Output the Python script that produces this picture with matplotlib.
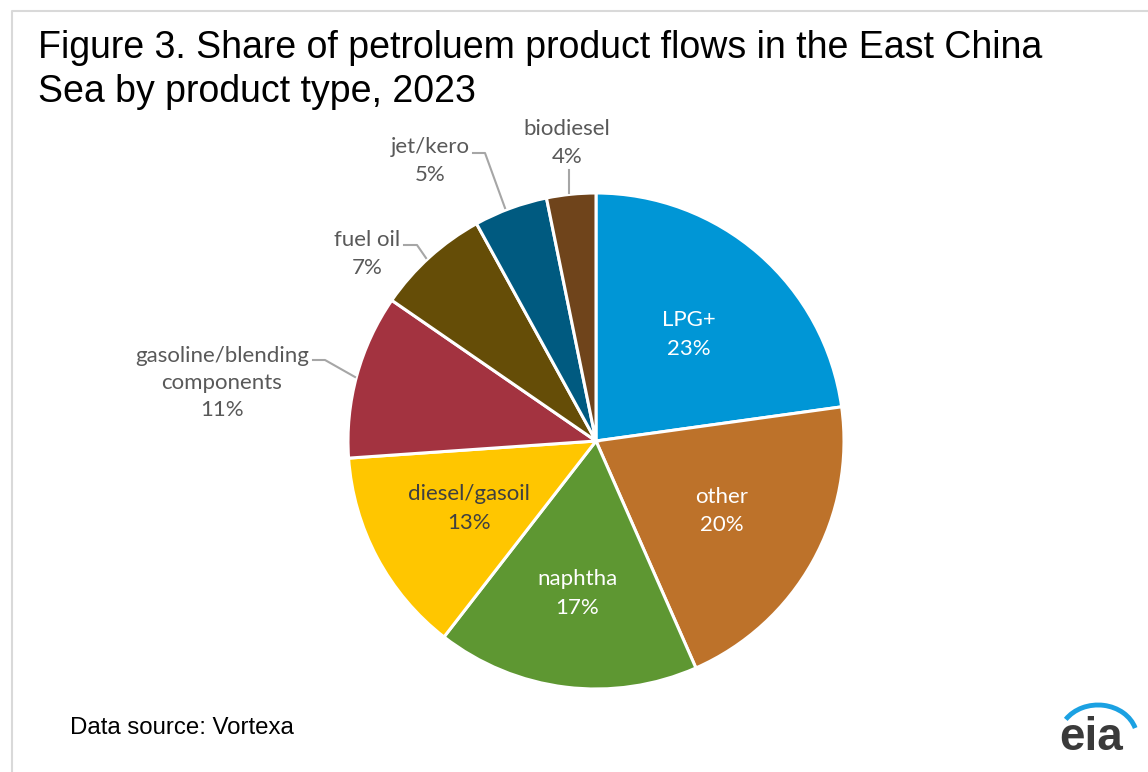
import numpy as np
import matplotlib
matplotlib.use("Agg")
import matplotlib.pyplot as plt
from matplotlib.patches import Arc

# ---- data ----
categories = ["LPG+", "other", "naphtha", "diesel/gasoil",
              "gasoline/blending\ncomponents", "fuel oil", "jet/kero", "biodiesel"]
shares = [22.8, 20.6, 17.1, 13.4, 10.7, 7.4, 4.8, 3.2]
pct_labels = ["23%", "20%", "17%", "13%", "11%", "7%", "5%", "4%"]
colors = ["#0096D6", "#BD722A", "#5E9732", "#FFC600",
          "#A33340", "#654D07", "#005A80", "#6F441B"]

W, H = 1148, 772
fig = plt.figure(figsize=(W / 100, H / 100), dpi=100)
ax = fig.add_axes([0, 0, 1, 1])

def Y(y):  # pixel-from-top to data
    return H - y

cx, cy, R = 596, Y(441), 248
wedges, _ = ax.pie(shares, colors=colors, startangle=90, counterclock=False,
                   center=(cx, cy), radius=R, frame=True,
                   wedgeprops=dict(edgecolor="white", linewidth=2.2))
ax.set_xlim(0, W)
ax.set_ylim(0, H)
ax.set_aspect("equal")
ax.axis("off")

# border
ax.plot([12, 12, W + 5], [Y(H + 5), Y(11), Y(11)], color="#D9D9D9", lw=1.5,
        solid_capstyle="butt")

lab_font = "Lato"
lab_size = 16
lsp = 1.55

# inside labels
inside = {0: (0.57, "white"), 1: (0.58, "white"), 2: (0.62, "white"), 3: (0.58, "#404040")}
for i, (rf, col) in inside.items():
    w = wedges[i]
    th = np.deg2rad((w.theta1 + w.theta2) / 2)
    x = cx + rf * R * np.cos(th)
    y = cy + rf * R * np.sin(th)
    ax.text(x, y, categories[i] + "\n" + pct_labels[i], ha="center", va="center",
            color=col, fontsize=lab_size, family=lab_font, linespacing=lsp)

# outside labels with leader lines
outside = {
    4: ((222, 383), [(313, 360), (325, 360), (355, 377)], 1.45),
    5: ((367, 254), [(404, 245), (417, 245), (426, 258)], lsp),
    6: ((430, 161), [(473, 153), (485, 153), (505, 208)], lsp),
    7: ((567, 143), [(569, 170), (569, 193)], lsp),
}
for i, ((lx, ly), pts, ls) in outside.items():
    ax.text(lx, Y(ly), categories[i] + "\n" + pct_labels[i], ha="center", va="center",
            color="#595959", fontsize=lab_size, family=lab_font, linespacing=ls)
    xs = [p[0] for p in pts]
    ys = [Y(p[1]) for p in pts]
    ax.plot(xs, ys, color="#A6A6A6", lw=1.5)

# title
ax.text(38, Y(30), "Figure 3. Share of petroluem product flows in the East China\nSea by product type, 2023",
        ha="left", va="top", fontsize=27, family="Liberation Sans", color="black",
        linespacing=1.27)

# source
ax.text(70, Y(728), "Data source: Vortexa", ha="left", va="center",
        fontsize=17.3, family="Liberation Sans", color="black")

# eia logo
ax.text(1091, Y(738), "eia", ha="center", va="center", fontsize=33, family="Liberation Sans",
        fontweight="bold", color="#3A3A3A")
arc = Arc((1098, Y(738)), 78, 66, theta1=15, theta2=150, color="#1BA1E2", lw=3.5)
ax.add_patch(arc)

fig.savefig("out.png", dpi=100)
